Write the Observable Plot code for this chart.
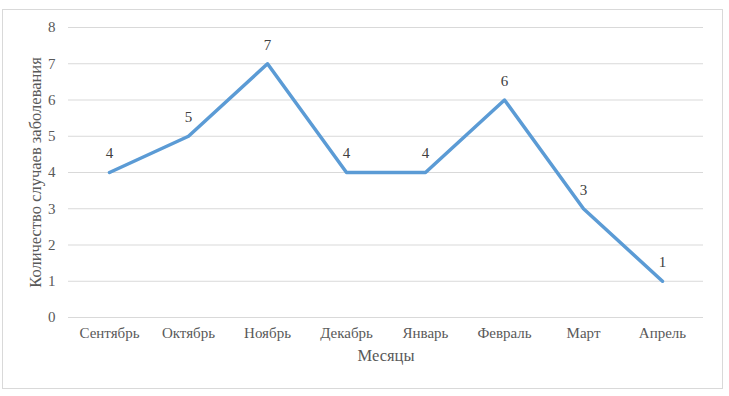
<!DOCTYPE html>
<html><head><meta charset="utf-8">
<script src="https://cdn.jsdelivr.net/npm/d3@7"></script>
<script src="https://cdn.jsdelivr.net/npm/@observablehq/plot@0.6"></script>
<style>
body{margin:0;background:#fff;}
#wrap{position:relative;width:729px;height:396px;}
#border{position:absolute;left:2px;top:9px;width:719px;height:378px;border:1px solid #d9d9d9;pointer-events:none;}
#wrap svg, #wrap svg text{font-family:"Liberation Serif","Times New Roman",serif !important;}
</style>
</head><body>
<div id="wrap"><div id="border"></div></div>
<script>
const months = ["Сентябрь","Октябрь","Ноябрь","Декабрь","Январь","Февраль","Март","Апрель"];
const cases = [4,5,7,4,4,6,3,1];
const yTicks = [0,1,2,3,4,5,6,7,8];
const data = months.map((m,i)=>({m, v:cases[i]}));
const ff = "Liberation Serif";

const chart = Plot.plot({
  width:729, height:396,
  marginLeft:68, marginRight:26, marginTop:27, marginBottom:79,
  style:{fontFamily:ff, fontSize:"15px", color:"#595959", background:"transparent"},
  x:{type:"point", domain:months, padding:0.5, label:null},
  y:{domain:[0,8], label:null},
  marks:[
    Plot.gridY(yTicks, {stroke:"#d9d9d9", strokeOpacity:1}),
    Plot.axisY(yTicks, {tickSize:0, tickPadding:13, fontSize:15, fill:"#595959", fontFamily:ff, label:null}),
    Plot.axisX({tickSize:0, tickPadding:10, fontSize:15, fill:"#595959", fontFamily:ff, label:null}),
    Plot.line(data, {x:"m", y:"v", stroke:"#5b9bd5", strokeWidth:3.5, strokeLinejoin:"round", strokeLinecap:"round"}),
    Plot.text(data, {x:"m", y:"v", text:d=>String(d.v), dy:-19, fontSize:15, fill:"#404040", fontFamily:ff}),
    Plot.text(["Месяцы"], {frameAnchor:"bottom", dy:43, fontSize:16.5, fill:"#595959", fontFamily:ff}),
    Plot.text(["Количество случаев заболевания"], {frameAnchor:"left", textAnchor:"middle", dx:-33, rotate:-90, fontSize:16.5, fill:"#595959", fontFamily:ff})
  ]
});
document.getElementById("wrap").appendChild(chart);
chart.style.position="absolute"; chart.style.left="0"; chart.style.top="0";
</script>
</body></html>
